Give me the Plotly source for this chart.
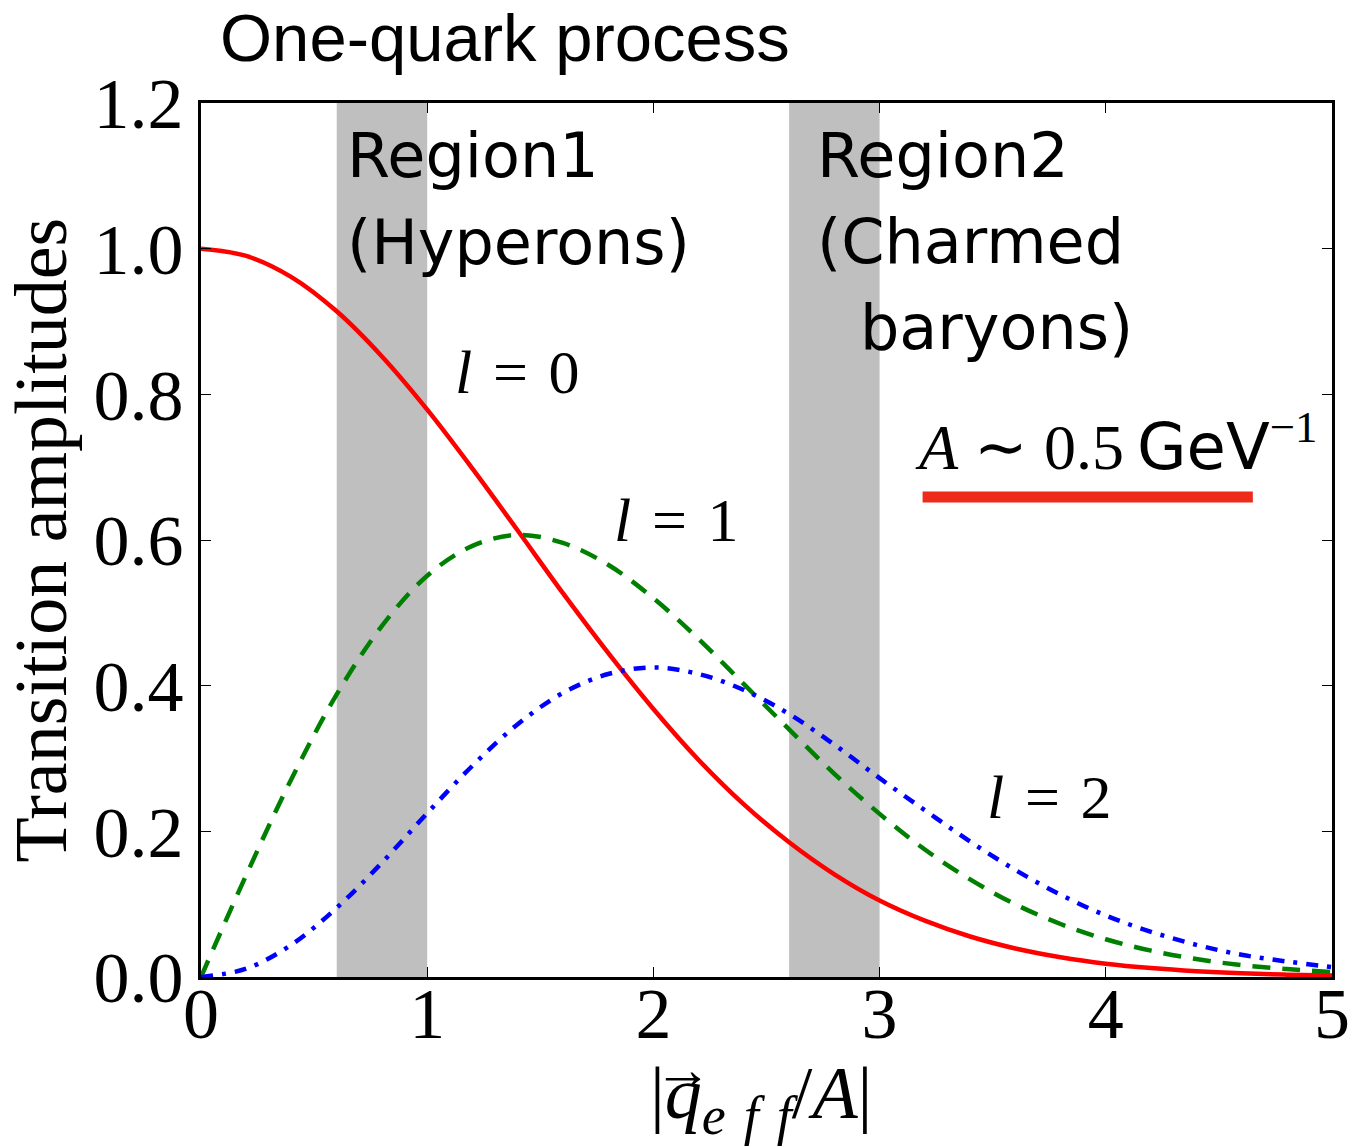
import plotly.graph_objects as go

# Data
q_values = [0.0, 0.2, 0.4, 0.6, 0.8, 1.0, 1.2, 1.4, 1.6, 1.8, 2.0, 2.2, 2.4, 2.6,
            2.8, 3.0, 3.2, 3.4, 3.6, 3.8, 4.0, 4.2, 4.4, 4.6, 4.8, 5.0]
amp_l0 = [1.000, 0.990, 0.961, 0.914, 0.852, 0.779, 0.698, 0.613, 0.527, 0.445,
          0.368, 0.298, 0.237, 0.185, 0.141, 0.105, 0.0773, 0.0556, 0.0392, 0.0271,
          0.0183, 0.0122, 0.0079, 0.0050, 0.0032, 0.0019]
amp_l1 = [0.0, 0.140, 0.272, 0.388, 0.482, 0.551, 0.592, 0.607, 0.596, 0.566,
          0.520, 0.464, 0.402, 0.340, 0.279, 0.224, 0.175, 0.134, 0.0998, 0.0728,
          0.0518, 0.0362, 0.0246, 0.0163, 0.0109, 0.0067]
amp_l2 = [0.0, 0.0114, 0.0444, 0.0950, 0.157, 0.225, 0.290, 0.347, 0.390, 0.416,
          0.425, 0.416, 0.394, 0.361, 0.319, 0.273, 0.229, 0.186, 0.147, 0.113,
          0.0845, 0.0621, 0.0442, 0.0305, 0.0213, 0.0137]
regions = [(0.6, 1.0), (2.6, 3.0)]
x_ticks = [0, 1, 2, 3, 4, 5]
y_ticks = [0.0, 0.2, 0.4, 0.6, 0.8, 1.0, 1.2]
y_tick_text = ["0.0", "0.2", "0.4", "0.6", "0.8", "1.0", "1.2"]

SERIF = "Liberation Serif, Times New Roman, serif"
SANS = "DejaVu Sans, Liberation Sans, sans-serif"
TITLE_SANS = "Liberation Sans, Arial, sans-serif"
SP = "\u2004"
QS = "\u2005"
TS = "\u2009"

fig = go.Figure()

for x0, x1 in regions:
    fig.add_vrect(x0=x0, x1=x1, fillcolor="#bfbfbf", line_width=0, layer="below")

fig.add_trace(go.Scatter(x=q_values, y=amp_l0, mode="lines", line_shape="spline",
                         line=dict(color="#ff0000", width=4.5), showlegend=False))
fig.add_trace(go.Scatter(x=q_values, y=amp_l1, mode="lines", line_shape="spline",
                         line=dict(color="#008000", width=4.5, dash="18px,12px"), showlegend=False))
fig.add_trace(go.Scatter(x=q_values, y=amp_l2, mode="lines", line_shape="spline",
                         line=dict(color="#0000ff", width=4.5, dash="12px,9px,4px,9px"), showlegend=False))

# red highlight stroke under the scale note
fig.add_shape(type="line", x0=3.19, x1=4.65, y0=0.659, y1=0.659, xref="x", yref="y",
              line=dict(color="#ee2a1a", width=11))

def add(text, x, y, size, family, xanchor="center", xref="x", yref="y", yanchor="middle"):
    fig.add_annotation(text=text, x=x, y=y, xref=xref, yref=yref, showarrow=False,
                       xanchor=xanchor, yanchor=yanchor,
                       font=dict(size=size, family=family, color="black"))

add("Region1", 0.635, 1.128, 62, SANS, xanchor="left")
add("(Hyperons)", 0.635, 1.008, 62, SANS, xanchor="left")
add("Region2", 2.714, 1.128, 62, SANS, xanchor="left")
add("(Charmed", 2.714, 1.010, 62, SANS, xanchor="left")
add("baryons)", 2.905, 0.892, 62, SANS, xanchor="left")
add(f"<i>l</i>{SP}={SP}0", 1.40, 0.831, 62, SERIF)
add(f"<i>l</i>{SP}={SP}1", 2.10, 0.627, 62, SERIF)
add(f"<i>l</i>{SP}={SP}2", 3.75, 0.247, 62, SERIF)
add(f"<i>A</i>{QS}∼{QS}0.5{TS}<span style='font-family:DejaVu Sans,sans-serif'>GeV</span><sup>−1</sup>",
    4.045, 0.733, 64, SERIF)
add("One-quark process", 0.015, 1.0744, 67, TITLE_SANS, xanchor="left", xref="paper", yref="paper")

# x-axis title (built as annotation so the vector arrow can sit over q)
add(f"|<i>q</i><sub><span style='font-size:54px'><i>e{SP}f{SP}f</i></span></sub>/<i>A</i>|",
    0.3952, -0.140, 74, SERIF, xanchor="left", xref="paper", yref="paper")
add("→", 0.4265, -0.106, 58, SERIF, xref="paper", yref="paper")

fig.update_xaxes(range=[0, 5], tickvals=x_ticks, ticktext=[str(v) for v in x_ticks],
                 ticks="inside", ticklen=10, tickwidth=1, tickcolor="black",
                 mirror="allticks", showline=True, linecolor="black", linewidth=3,
                 showgrid=False, zeroline=False, automargin=False, ticklabelstandoff=-28,
                 tickfont=dict(family=SERIF, size=72, color="black"))
fig.update_yaxes(range=[0, 1.2], tickvals=y_ticks, ticktext=y_tick_text,
                 ticks="inside", ticklen=10, tickwidth=1, tickcolor="black",
                 mirror="allticks", showline=True, linecolor="black", linewidth=3,
                 showgrid=False, zeroline=False, automargin=False,
                 tickfont=dict(family=SERIF, size=72, color="black"),
                 title=dict(text="Transition amplitudes",
                            font=dict(family=SERIF, size=74, color="black"), standoff=8))

fig.update_layout(width=1353, height=1147, margin=dict(l=201, r=21, t=103, b=170),
                  plot_bgcolor="white", paper_bgcolor="white")

fig.write_html("out.html")
